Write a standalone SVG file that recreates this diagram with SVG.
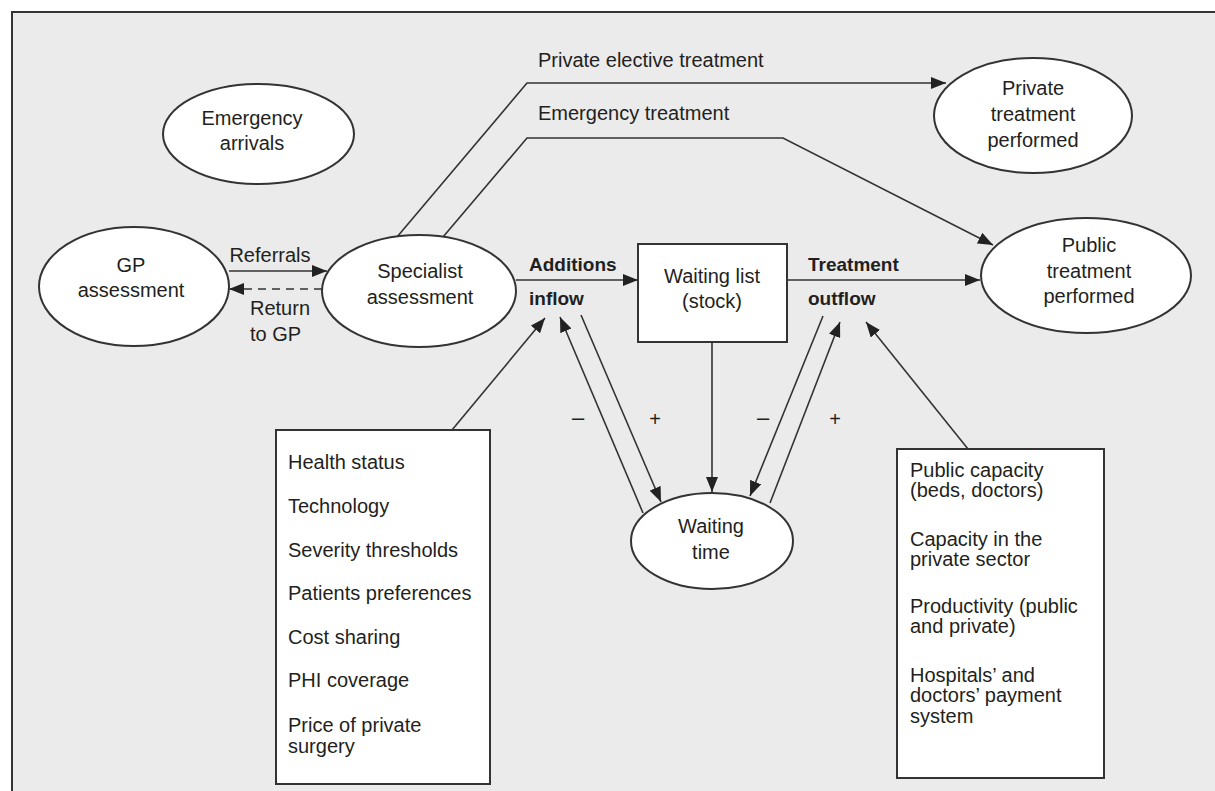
<svg xmlns="http://www.w3.org/2000/svg" width="1215" height="791" viewBox="0 0 1215 791">
<style>
text{font-family:"Liberation Sans",Arial,sans-serif;font-size:20px;fill:#231f20}
.c{text-anchor:middle}
.b{font-weight:bold;font-size:19px}
.s{font-size:22px}
.node{fill:#fff;stroke:#333;stroke-width:2}
.ln{fill:none;stroke:#333;stroke-width:1.6}
.arr{marker-end:url(#ah)}
</style>
<defs>
<marker id="ah" markerUnits="userSpaceOnUse" markerWidth="16" markerHeight="12" refX="15" refY="6" orient="auto">
<path d="M0,0 L15,6 L0,12 z" fill="#222"/>
</marker>
</defs>
<rect x="0" y="0" width="1215" height="791" fill="#fff"/>
<rect x="12" y="12" width="1220" height="800" fill="#ebebeb" stroke="#333" stroke-width="2"/>

<g id="connectors">
<polyline class="ln arr" points="397,237 527,83 946,83"/>
<polyline class="ln arr" points="443,237 527,138 783,138 993,245"/>
<line class="ln arr" x1="229" y1="271" x2="327" y2="271"/>
<line class="ln arr" x1="322" y1="289" x2="229" y2="289" stroke-dasharray="8,6"/>
<line class="ln arr" x1="516" y1="280" x2="638" y2="280"/>
<line class="ln arr" x1="787" y1="280" x2="980" y2="280"/>
<line class="ln arr" x1="712" y1="342" x2="712" y2="492"/>
<line class="ln arr" x1="643" y1="513" x2="560" y2="317"/>
<line class="ln arr" x1="581" y1="315" x2="661" y2="502"/>
<line class="ln arr" x1="823" y1="316" x2="750" y2="496"/>
<line class="ln arr" x1="770" y1="503" x2="840" y2="322"/>
<line class="ln arr" x1="452" y1="430" x2="545" y2="318"/>
<line class="ln arr" x1="968" y1="449" x2="866" y2="322"/>
<text x="270" y="262" class="c">Referrals</text>
<text x="250" y="315">Return</text>
<text x="250" y="341">to GP</text>
<text x="538" y="67">Private elective treatment</text>
<text x="538" y="120">Emergency treatment</text>
<text x="529" y="271" class="b">Additions</text>
<text x="529" y="305" class="b">inflow</text>
<text x="808" y="271" class="b">Treatment</text>
<text x="808" y="305" class="b">outflow</text>
<text x="578" y="425" class="c s">–</text>
<text x="655" y="426" class="c">+</text>
<text x="763" y="425" class="c s">–</text>
<text x="835" y="426" class="c">+</text>
</g>

<g id="emergency-arrivals">
<ellipse class="node" cx="258.5" cy="134" rx="95.5" ry="50"/>
<text x="252" y="125" class="c">Emergency</text>
<text x="252" y="150" class="c">arrivals</text>
</g>
<g id="gp-assessment">
<ellipse class="node" cx="134" cy="286.5" rx="95" ry="59.5"/>
<text x="131" y="272" class="c">GP</text>
<text x="131" y="297" class="c">assessment</text>
</g>
<g id="specialist-assessment">
<ellipse class="node" cx="419" cy="291" rx="97" ry="56"/>
<text x="420" y="278" class="c">Specialist</text>
<text x="420" y="304" class="c">assessment</text>
</g>
<g id="waiting-list">
<rect class="node" x="638" y="244" width="149" height="98"/>
<text x="712" y="283" class="c">Waiting list</text>
<text x="712" y="308" class="c">(stock)</text>
</g>
<g id="private-treatment">
<ellipse class="node" cx="1033" cy="115.5" rx="99" ry="57.5"/>
<text x="1033" y="95" class="c">Private</text>
<text x="1033" y="121" class="c">treatment</text>
<text x="1033" y="147" class="c">performed</text>
</g>
<g id="public-treatment">
<ellipse class="node" cx="1086" cy="275.5" rx="105" ry="57.5"/>
<text x="1089" y="252" class="c">Public</text>
<text x="1089" y="278" class="c">treatment</text>
<text x="1089" y="303" class="c">performed</text>
</g>
<g id="waiting-time">
<ellipse class="node" cx="712" cy="541" rx="81" ry="48"/>
<text x="711" y="533" class="c">Waiting</text>
<text x="711" y="559" class="c">time</text>
</g>
<g id="inflow-factors">
<rect class="node" x="276" y="430" width="214" height="354"/>
<text x="288" y="469">Health status</text>
<text x="288" y="513">Technology</text>
<text x="288" y="557">Severity thresholds</text>
<text x="288" y="600">Patients preferences</text>
<text x="288" y="644">Cost sharing</text>
<text x="288" y="687">PHI coverage</text>
<text x="288" y="732">Price of private</text>
<text x="288" y="753">surgery</text>
</g>
<g id="outflow-factors">
<rect class="node" x="897" y="449" width="207" height="329"/>
<text x="910" y="477">Public capacity</text>
<text x="910" y="497">(beds, doctors)</text>
<text x="910" y="546">Capacity in the</text>
<text x="910" y="566">private sector</text>
<text x="910" y="613">Productivity (public</text>
<text x="910" y="633">and private)</text>
<text x="910" y="682">Hospitals’ and</text>
<text x="910" y="702">doctors’ payment</text>
<text x="910" y="723">system</text>
</g>
</svg>
